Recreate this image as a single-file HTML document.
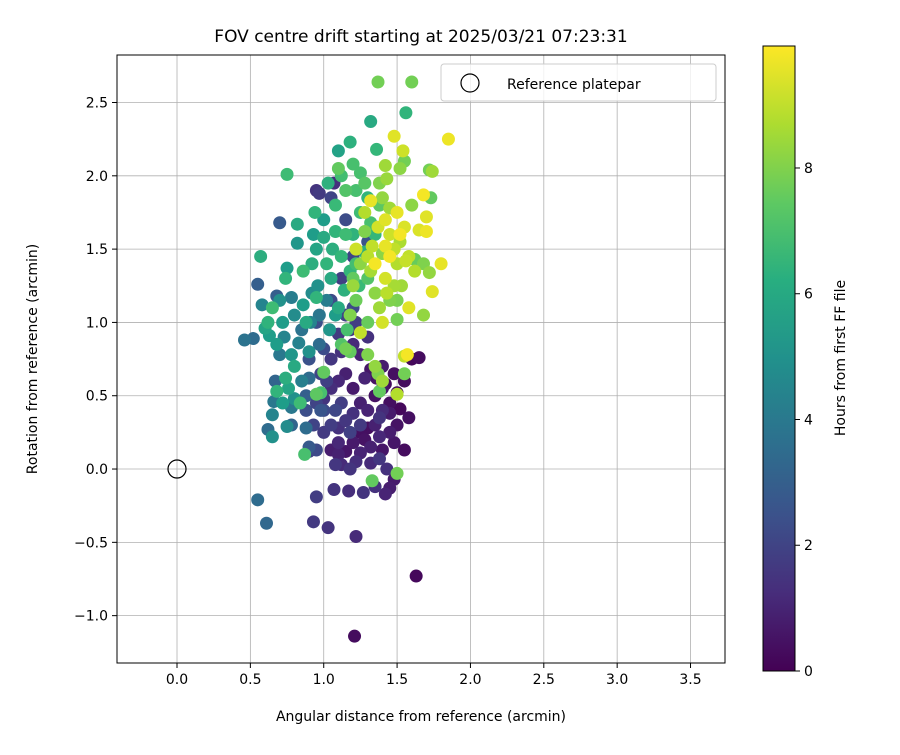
<!DOCTYPE html>
<html><head><meta charset="utf-8"><style>
body{margin:0;background:#fff}
svg text{font-family:"DejaVu Sans","Liberation Sans",sans-serif;fill:#000}
</style></head><body>
<svg id="chart" width="900" height="750" xmlns="http://www.w3.org/2000/svg">
<defs>
<linearGradient id="vir" x1="0" y1="1" x2="0" y2="0">
<stop offset="0" stop-color="#440154"/><stop offset="0.125" stop-color="#472d7b"/><stop offset="0.25" stop-color="#3b528b"/><stop offset="0.375" stop-color="#2c728e"/><stop offset="0.5" stop-color="#21918c"/><stop offset="0.625" stop-color="#28ae80"/><stop offset="0.75" stop-color="#5ec962"/><stop offset="0.875" stop-color="#addc30"/><stop offset="1" stop-color="#fde725"/>
</linearGradient>
<clipPath id="pc"><rect x="117" y="55" width="608" height="608"/></clipPath>
</defs>
<text x="421" y="42" font-size="17" text-anchor="middle">FOV centre drift starting at 2025/03/21 07:23:31</text>
<g id="grid"></g>
<g id="pts" clip-path="url(#pc)"></g>
<rect x="117" y="55" width="608" height="608" fill="none" stroke="#000" stroke-width="1"/>
<g id="ticks"></g>
<text x="421" y="721" font-size="14" text-anchor="middle">Angular distance from reference (arcmin)</text>
<text transform="translate(37,359) rotate(-90)" font-size="14" text-anchor="middle">Rotation from reference (arcmin)</text>
<g>
<rect x="441" y="64" width="275" height="37" rx="3" fill="#fff" fill-opacity="0.8" stroke="#ccc"/>
<circle cx="470" cy="83" r="9" fill="none" stroke="#000" stroke-width="1.2"/>
<text x="507" y="89" font-size="14">Reference platepar</text>
</g>
<rect x="763" y="46" width="32" height="625" fill="url(#vir)" stroke="#000" stroke-width="1"/>
<g id="cbt"></g>
<text transform="translate(845,358) rotate(-90)" font-size="14" text-anchor="middle">Hours from first FF file</text>
</svg>
<script>
const xTicks=[0,0.5,1,1.5,2,2.5,3,3.5];
const yTicks=[-1,-0.5,0,0.5,1,1.5,2,2.5];
const cTicks=[0,2,4,6,8];
const refPoint=[0,0];
const xs=[0.55,0.61,1.03,0.93,0.95,1.22,1.21,1.63,1.33,1.50,1.27,1.35,1.42,1.45,1.48,1.17,1.07,
1.37,1.60,1.32,1.56,1.18,1.85,1.10,1.20,1.36,1.48,1.54,1.55,1.52,1.42,1.72,1.74,0.75,1.10,1.25,1.68,1.73,1.43,
1.05,1.10,1.12,1.15,1.20,1.25,1.28,1.30,1.35,1.38,1.40,1.45,1.50,1.55,1.43,1.38,1.32,1.22,1.18,1.08,1.10,1.15,1.05,1.00,0.93,0.90,0.95,0.88,0.95,1.00,1.05,1.10,1.15,1.20,1.25,1.30,1.35,1.40,1.45,1.50,1.55,1.60,1.65,1.45,1.40,1.20,1.12,1.28,1.32,1.40,1.48,1.52,1.38,1.25,1.18,1.08,1.02,0.98,1.05,1.12,1.20,1.25,1.30,1.10,1.18,1.00,0.95,1.22,1.15,1.20,1.32,1.48,1.58,1.42,1.36,1.25,1.10,1.00,0.97,0.95,1.07,1.05,1.15,1.30,1.20,1.12,1.05,0.90,
0.46,0.52,0.55,0.58,0.57,0.60,0.63,0.62,0.65,0.65,0.66,0.68,0.67,0.70,0.70,0.68,0.72,0.74,0.73,0.75,0.75,0.78,0.78,0.80,0.78,0.80,0.82,0.82,0.83,0.84,0.85,0.85,0.86,0.86,0.87,0.88,0.90,0.88,0.90,0.90,0.91,0.92,0.92,0.93,0.94,0.95,0.96,0.97,0.97,0.98,0.98,1.00,1.00,1.00,1.02,1.02,1.04,1.05,1.06,1.08,1.08,1.10,1.12,1.12,1.14,1.15,1.16,1.18,1.18,0.95,0.88,0.80,0.76,0.72,0.74,0.62,0.65,0.70,0.68,0.78,1.03,1.08,1.12,1.15,1.22,1.25,1.28,1.30,1.32,1.35,1.38,1.20,1.22,1.28,1.24,1.30,
1.38,1.40,1.42,1.45,1.45,1.48,1.50,1.50,1.52,1.53,1.55,1.58,1.58,1.60,1.62,1.65,1.68,1.70,1.70,1.72,1.74,1.80,1.68,1.62,1.55,1.57,1.55,1.50,1.50,1.45,1.42,1.40,1.38,1.35,1.35,1.33,1.32,1.30,1.30,1.28,1.25,1.22,1.20,1.18,1.15,1.35,1.37,1.40,1.30,1.38,1.42,1.48,1.45,1.50,1.52,1.56,1.25,1.22,1.20,1.28,1.32,1.37,1.40,1.43,0.95];
const ys=[-0.21,-0.37,-0.40,-0.36,-0.19,-0.46,-1.14,-0.73,-0.08,-0.03,-0.16,-0.12,-0.17,-0.13,-0.07,-0.15,-0.14,
2.64,2.64,2.37,2.43,2.23,2.25,2.17,2.08,2.18,2.27,2.17,2.10,2.05,2.07,2.04,2.03,2.01,2.05,2.02,1.87,1.85,1.98,
0.13,0.10,0.03,0.12,0.18,0.11,0.20,0.28,0.30,0.22,0.13,0.25,0.30,0.13,0.00,0.07,0.04,0.05,0.00,0.03,0.28,0.33,0.30,0.25,0.30,0.12,0.13,0.40,0.45,0.48,0.55,0.60,0.65,0.55,0.45,0.40,0.50,0.55,0.45,0.52,0.60,0.75,0.76,0.38,0.40,0.38,0.45,0.62,0.68,0.70,0.65,0.41,0.35,0.30,0.25,0.40,0.60,0.65,0.75,0.80,0.85,0.78,0.90,0.92,0.95,0.82,1.00,1.00,1.05,1.10,0.15,0.18,0.35,0.58,0.62,0.25,0.18,0.40,1.88,1.90,1.95,1.85,1.70,1.55,1.45,1.30,1.15,0.75,
0.88,0.89,1.26,1.12,1.45,0.96,0.91,0.27,0.22,0.37,0.46,0.53,0.60,0.78,1.68,1.18,1.00,1.30,0.90,1.37,0.29,0.30,0.42,0.48,1.17,1.05,1.67,1.54,0.86,0.45,0.60,0.95,1.35,1.12,0.10,0.28,0.15,0.50,0.62,0.80,1.00,1.20,1.40,1.60,1.75,1.50,1.25,1.05,0.85,0.52,0.40,0.66,1.70,1.58,1.40,1.15,0.95,1.30,1.50,1.62,1.05,1.10,1.45,0.85,1.22,1.60,0.95,1.35,0.80,1.17,1.00,0.70,0.55,0.45,0.62,1.00,1.10,1.15,0.85,0.78,1.95,1.80,2.00,1.90,1.90,1.75,1.95,1.85,1.68,1.60,1.80,1.60,1.40,1.48,1.25,1.30,
1.95,1.85,1.70,1.78,1.60,1.50,1.40,1.75,1.60,1.25,1.65,1.45,1.10,1.80,1.35,1.63,1.40,1.62,1.72,1.34,1.21,1.40,1.05,1.43,0.77,0.78,0.65,0.51,1.02,1.15,1.30,1.00,1.10,1.40,1.20,1.52,1.35,1.00,1.45,1.62,1.40,1.50,1.30,1.05,0.82,0.70,0.65,0.60,0.78,0.53,1.52,1.25,1.45,1.15,1.55,1.42,0.93,1.15,1.25,1.75,1.83,1.65,1.47,1.20,0.51];
const hours=[3.5,3.3,1.5,1.7,1.8,1.2,0.3,0.2,7.5,7.8,1.5,1.4,1.0,0.8,0.7,1.3,1.5,
7.8,7.8,6.0,6.5,6.3,9.7,5.7,7.0,6.6,9.5,9.2,7.8,8.2,8.5,7.8,8.5,6.8,7.5,7.0,9.8,7.5,8.4,
0.8,0.9,1.2,0.6,0.7,1.0,0.5,0.4,0.9,1.1,0.6,0.8,0.5,0.3,1.4,1.6,1.2,1.3,1.5,1.6,1.4,1.6,1.8,1.7,2.0,1.9,2.2,2.4,2.0,1.5,1.3,1.1,0.9,0.7,0.9,1.0,0.5,0.6,0.4,0.3,0.3,0.2,0.3,0.7,1.2,1.4,1.8,1.0,0.6,0.8,0.4,0.2,1.5,1.7,1.9,2.1,1.9,2.0,1.6,1.4,1.2,1.0,1.4,1.7,1.5,2.3,2.4,1.8,2.0,2.2,0.9,0.6,0.4,0.3,0.5,0.4,1.1,2.2,1.7,1.5,1.4,2.0,2.3,2.5,2.0,1.9,2.3,2.5,
3.8,3.5,3.0,4.5,6.2,5.8,5.5,3.5,5.0,4.5,4.0,6.5,3.2,4.0,2.8,3.0,5.5,6.5,4.5,5.5,4.8,3.2,4.0,5.0,4.2,4.8,6.0,5.2,4.4,6.8,4.3,3.8,6.8,5.5,7.0,3.5,2.8,3.0,3.5,5.0,4.5,4.8,6.2,5.5,6.5,5.8,5.0,3.9,3.5,7.0,2.6,7.5,5.5,6.0,6.5,4.2,5.2,6.0,6.2,6.5,5.5,6.0,6.6,7.2,6.3,6.8,7.0,6.6,7.5,6.5,6.0,6.0,5.8,5.5,6.2,6.4,6.8,5.0,5.5,5.2,6.3,6.7,6.9,7.2,7.0,6.8,7.3,6.5,7.0,6.6,7.4,6.4,6.9,6.2,6.7,7.2,
8.0,8.3,9.5,8.5,9.2,9.0,8.8,9.6,9.8,8.5,9.4,9.0,9.5,8.2,8.8,9.4,8.0,9.7,9.5,8.3,9.5,9.6,8.3,7.6,9.0,9.8,7.8,8.8,7.8,8.0,9.3,9.3,8.5,9.8,8.2,9.0,8.6,7.6,8.9,8.0,8.2,9.2,7.5,8.0,7.8,8.3,8.0,8.5,8.0,7.5,9.6,8.6,9.8,7.9,8.7,9.1,9.0,7.7,8.4,8.8,9.6,9.3,8.2,8.9,7.4];

const NS='http://www.w3.org/2000/svg';
const X0=117,X1=725,Y0=55,Y1=663,xmin=-0.409,xmax=3.735,ymin=-1.323,ymax=2.824,cmax=9.94;
const sx=v=>X0+(v-xmin)/(xmax-xmin)*(X1-X0);
const sy=v=>Y1-(v-ymin)/(ymax-ymin)*(Y1-Y0);
const sc=v=>671-v/cmax*625;
const V=[[68,1,84],[72,40,120],[62,74,137],[49,104,142],[38,130,142],[31,158,137],[53,183,121],[110,206,88],[181,222,43],[253,231,37]];
function vir(t){t=Math.max(0,Math.min(1,t))*9;const i=Math.min(8,Math.floor(t)),f=t-i;const c=V[i].map((a,k)=>Math.round(a+(V[i+1][k]-a)*f));return `rgb(${c})`;}
function mk(tag,attrs,parent){const e=document.createElementNS(NS,tag);for(const k in attrs)e.setAttribute(k,attrs[k]);parent.appendChild(e);return e;}
const grid=document.getElementById('grid'),ticks=document.getElementById('ticks'),pts=document.getElementById('pts'),cbt=document.getElementById('cbt');
xTicks.forEach(v=>{const x=sx(v);
const g=mk('line',{x1:x,x2:x,y1:Y0,y2:Y1,stroke:'#b0b0b0','stroke-width':0.8},grid);


const t=mk('line',{x1:x,x2:x,y1:Y1,y2:Y1+5,stroke:'#000'},ticks);


const l=mk('text',{x:x,y:Y1+21,'font-size':14,'text-anchor':'middle'},ticks);l.textContent=v.toFixed(1);

});
yTicks.forEach(v=>{const y=sy(v);
const g=mk('line',{x1:X0,x2:X1,y1:y,y2:y,stroke:'#b0b0b0','stroke-width':0.8},grid);


const t=mk('line',{x1:X0-5,x2:X0,y1:y,y2:y,stroke:'#000'},ticks);


const l=mk('text',{x:X0-9,y:y+5,'font-size':14,'text-anchor':'end'},ticks);l.textContent=(v<0?'\u2212':'')+Math.abs(v).toFixed(1);

});
const order=hours.map((h,i)=>i).sort((a,b)=>hours[a]-hours[b]);
order.forEach(i=>{const c=mk('circle',{cx:sx(xs[i]),cy:sy(ys[i]),r:6.5,fill:vir(hours[i]/cmax)},pts);

});
const rp=mk('circle',{cx:sx(refPoint[0]),cy:sy(refPoint[1]),r:9,fill:'none',stroke:'#000','stroke-width':1.2},pts);


cTicks.forEach(v=>{const y=sc(v);
const t=mk('line',{x1:795,x2:800,y1:y,y2:y,stroke:'#000'},cbt);


const l=mk('text',{x:804,y:y+5,'font-size':14},cbt);l.textContent=v;

});
</script>
</body></html>
